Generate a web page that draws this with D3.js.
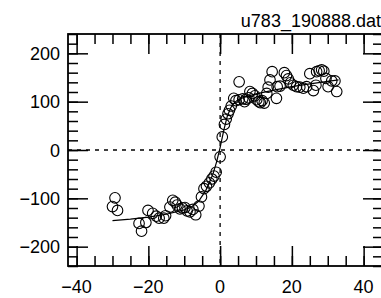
<!DOCTYPE html>
<html>
<head>
<meta charset="utf-8">
<script src="https://cdn.jsdelivr.net/npm/d3@7"></script>
<style>
  body { margin: 0; background: #fff; }
  text { font-family: "Liberation Sans", Arial, sans-serif; }
</style>
</head>
<body>
<div id="chart"></div>
<script>
// measured points (x, y)
var pointX = [-29.3, -30.0, -28.6, -22.6, -21.9, -20.7, -20.1, -18.8, -17.8, -17.0, -15.7, -15.2,
    -14.0, -13.2, -12.5, -12.0, -11.2, -10.5, -9.8, -9.2, -8.4, -7.6, -6.8, -5.9, -5.2, -4.5, -3.8,
    -3.0, -2.3, -1.7, -1.1, 0.0,
    0.6, 1.2, 1.7, 2.2, 2.6, 3.1, 3.8, 5.3, 4.4, 5.3, 6.3, 6.8, 7.2, 8.0, 8.3, 9.0, 9.7, 10.2, 10.8,
    11.2, 11.7, 12.3, 13.0, 13.4, 13.9, 14.5, 15.7, 15.9, 16.7, 17.9, 18.5, 19.0, 19.6, 20.4, 21.3,
    22.2, 23.2, 24.1, 25.0, 26.0, 26.7, 26.9, 27.6, 28.3, 28.9, 29.5, 30.1, 31.1, 32.0, 32.5];
var pointY = [-99, -117, -125, -152, -168, -150, -125, -131, -137, -141, -141, -136,
    -118, -104, -108, -114, -122, -120, -119, -126, -128, -123, -134, -116, -97, -80, -75,
    -68, -60, -54, -46, -14,
    27, 53, 64, 75, 82, 91, 107, 141, 102, 104, 106, 100, 105, 108, 121, 117, 112, 104, 100,
    98, 102, 97, 117, 130, 145, 162, 107, 131, 132, 160, 154, 147, 139, 134, 131,
    130, 128, 131, 158, 123, 134, 162, 164, 166, 163, 148, 131, 143, 143, 121];

// fitted curve
var fitX = [-30, -25, -20, -15, -10, -8, -6, -4, -2, -1, 0, 1, 2, 3, 4, 5, 7, 10, 15, 20, 25, 30, 33];
var fitY = [-146, -143, -139, -133, -124, -118, -106, -84, -50, -25, 5, 40, 70, 88, 98, 104, 110, 116, 124, 131, 137, 142, 145];

var xMajor = [-40, -20, 0, 20, 40];
var yMajor = [-200, -100, 0, 100, 200];
var title = "u783_190888.dat";

var W = 381, H = 298;
var pLeft = 68, pRight = 383, pTop = 34, pBottom = 266;

var svg = d3.select("#chart").append("svg")
    .attr("width", W)
    .attr("height", H);

var x = d3.scaleLinear().domain([-42.4, 45.4]).range([pLeft, pRight]);
var y = d3.scaleLinear().domain([-240, 240]).range([pBottom, pTop]);

var xMinor = d3.range(-40, 46, 5);
var yMinor = d3.range(-240, 241, 20);

// zero lines
svg.append("line")
    .attr("x1", pLeft).attr("x2", pRight)
    .attr("y1", y(0)).attr("y2", y(0))
    .attr("stroke", "#000").attr("stroke-width", 1.3)
    .attr("stroke-dasharray", "4,5");
svg.append("line")
    .attr("x1", x(0)).attr("x2", x(0))
    .attr("y1", pTop).attr("y2", pBottom)
    .attr("stroke", "#000").attr("stroke-width", 1.3)
    .attr("stroke-dasharray", "4,5");

function tickAxis(axis, scale, vals, size, tx, ty) {
    var g = svg.append("g")
        .attr("transform", "translate(" + tx + "," + ty + ")")
        .call(axis(scale).tickValues(vals).tickSize(size).tickFormat(""));
    g.select(".domain").remove();
    g.selectAll(".tick line").attr("stroke", "#000").attr("stroke-width", 1.5);
    return g;
}

// inward ticks on all four sides
tickAxis(d3.axisBottom, x, xMinor, -10, 0, pBottom);
tickAxis(d3.axisBottom, x, xMajor, -20, 0, pBottom);
tickAxis(d3.axisTop, x, xMinor, -10, 0, pTop);
tickAxis(d3.axisTop, x, xMajor, -20, 0, pTop);
tickAxis(d3.axisLeft, y, yMinor, -10, pLeft, 0);
tickAxis(d3.axisLeft, y, yMajor, -20, pLeft, 0);
tickAxis(d3.axisRight, y, yMinor, -10, pRight, 0);
tickAxis(d3.axisRight, y, yMajor, -20, pRight, 0);

// tick labels
svg.append("g").selectAll("text")
    .data(xMajor).enter().append("text")
    .attr("x", d => x(d))
    .attr("y", 293)
    .attr("text-anchor", "middle")
    .attr("font-size", 18)
    .text(d => d < 0 ? "\u2212" + Math.abs(d) : d);

svg.append("g").selectAll("text")
    .data(yMajor).enter().append("text")
    .attr("x", 60)
    .attr("y", d => y(d) + 6.5)
    .attr("text-anchor", "end")
    .attr("font-size", 18)
    .text(d => d < 0 ? "\u2212" + Math.abs(d) : d);

// frame
svg.append("rect")
    .attr("x", pLeft).attr("y", pTop)
    .attr("width", pRight - pLeft).attr("height", pBottom - pTop)
    .attr("fill", "none").attr("stroke", "#000").attr("stroke-width", 1.8);

// fit line
var line = d3.line()
    .x((d, i) => x(fitX[i]))
    .y((d, i) => y(fitY[i]));
svg.append("path")
    .datum(fitX)
    .attr("d", line)
    .attr("fill", "none")
    .attr("stroke", "#000")
    .attr("stroke-width", 1.2);

// points
svg.append("g").selectAll("circle")
    .data(pointX).enter().append("circle")
    .attr("cx", (d, i) => x(pointX[i]))
    .attr("cy", (d, i) => y(pointY[i]))
    .attr("r", 5.3)
    .attr("fill", "none")
    .attr("stroke", "#000")
    .attr("stroke-width", 1.1);

svg.append("text")
    .attr("x", 381)
    .attr("y", 27)
    .attr("text-anchor", "end")
    .attr("font-size", 18)
    .text(title);
</script>
</body>
</html>
